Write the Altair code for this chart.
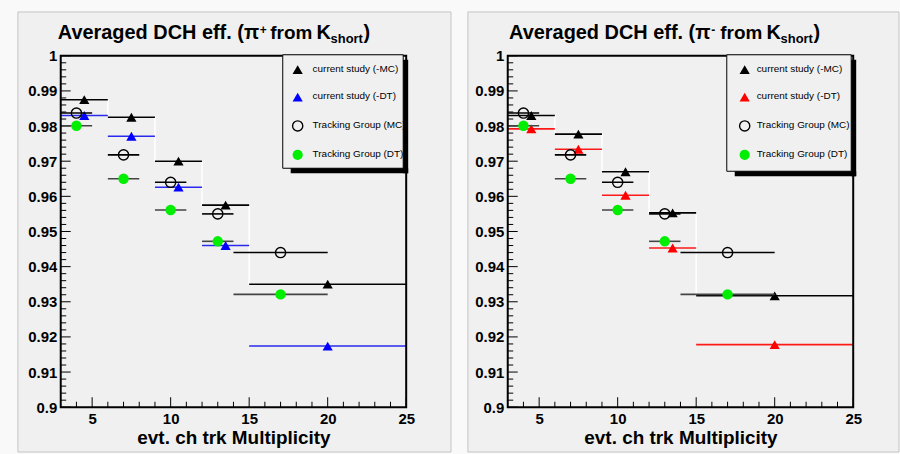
import altair as alt
import pandas as pd

# ---------------- data ----------------
cs_x = [4.5, 7.5, 10.5, 13.5, 20.0]        # current study bin centres
cs_lo = [3, 6, 9, 12, 15]
cs_hi = [6, 9, 12, 15, 25]
cs_edges = [3, 6, 9, 12, 15, 25]
tg_x = [4, 7, 10, 13, 17]                  # tracking group points
tg_lo = [3, 6, 9, 12, 14]
tg_hi = [5, 8, 11, 14, 20]

pip_mc = [0.9875, 0.9825, 0.9700, 0.9575, 0.9350]
pip_dt = [0.9830, 0.9771, 0.9626, 0.9460, 0.9174]
pim_mc = [0.9830, 0.9777, 0.9670, 0.9553, 0.9317]
pim_dt = [0.9792, 0.9734, 0.9603, 0.9453, 0.9178]
tg_mc = [0.9837, 0.9718, 0.9640, 0.9550, 0.9440]
tg_dt = [0.9801, 0.9650, 0.9561, 0.9472, 0.9321]

labels = ["current study (-MC)", "current study (-DT)",
          "Tracking Group (MC)", "Tracking Group (DT)"]

y_major = [0.90, 0.91, 0.92, 0.93, 0.94, 0.95, 0.96, 0.97, 0.98, 0.99, 1.00]
y_minor = [round(0.9 + 0.002 * i, 3) for i in range(51) if i % 5]
x_major = [5, 10, 15, 20, 25]
x_minor = [4, 6, 7, 8, 9, 11, 12, 13, 14, 16, 17, 18, 19, 21, 22, 23, 24]

FONT = "Liberation Sans"
W, H = 347, 353
PANEL = "#f0f0f0"
BORDER = "#c4c4c4"
GREEN = "#00ee00"

xs = alt.Scale(domain=[3, 25], nice=False, zero=False)
ys = alt.Scale(domain=[0.9, 1.0], nice=False, zero=False)
XAX = alt.Axis(values=x_major, title="evt. ch trk Multiplicity", ticks=False, domain=False,
               grid=False, labelFont=FONT, labelFontSize=15, labelFontWeight="bold",
               labelColor="black", labelPadding=4, labelFlush=False, labelOverlap=False,
               titleFont=FONT, titleFontSize=19, titleFontWeight="bold", titleColor="black",
               titlePadding=2, format="d", zindex=2)
YAX = alt.Axis(values=y_major, title=None, ticks=False, domain=False, grid=False,
               labelFont=FONT, labelFontSize=15, labelFontWeight="bold", labelColor="black",
               labelPadding=4, labelFlush=False, labelOverlap=False, format=".2~f", zindex=2)

one = pd.DataFrame({"a": [0]})


def X(f):
    return alt.X(f, type="quantitative", scale=xs, axis=XAX)


def Y(f):
    return alt.Y(f, type="quantitative", scale=ys, axis=YAX)


def deco():
    return alt.Chart(one)


def txt(s, x, y, size, bold=True, align="left"):
    return deco().mark_text(text=s, font=FONT, fontSize=size,
                            fontWeight="bold" if bold else "normal",
                            align=align, baseline="alphabetic", color="black").encode(
        x=alt.value(x), y=alt.value(y))


def panel(mc, dt, dt_color, dt_bar, sup, bgx, t, leg):
    layers = []
    # panel background
    layers.append(deco().mark_rect(fill=PANEL, stroke=BORDER, strokeWidth=1).encode(
        x=alt.value(bgx[0]), x2=alt.value(bgx[1]), y=alt.value(-44), y2=alt.value(398)))
    # title pieces
    layers += [
        txt("Averaged DCH eff. (\u03c0", t[0], -17.3, 20),
        txt(sup, t[1], -21.5, 12),
        txt("from", t[2], -17.3, 19),
        txt("K", t[3], -17.3, 20),
        txt("short", t[4], -12.5, 13),
        txt(")", t[5], -17.3, 20),
    ]
    # ticks (inside frame)
    ymaj = pd.DataFrame({"v": y_major})
    ymin = pd.DataFrame({"v": y_minor})
    xmaj = pd.DataFrame({"v": x_major})
    xmin = pd.DataFrame({"v": x_minor})
    layers.append(alt.Chart(ymaj).mark_rule(color="black", strokeWidth=1).encode(
        y=Y("v"), x=alt.value(0), x2=alt.value(10)))
    layers.append(alt.Chart(ymin).mark_rule(color="black", strokeWidth=1).encode(
        y=Y("v"), x=alt.value(0), x2=alt.value(5.5)))
    layers.append(alt.Chart(xmaj).mark_rule(color="black", strokeWidth=1).encode(
        x=X("v"), y=alt.value(H - 10), y2=alt.value(H)))
    layers.append(alt.Chart(xmin).mark_rule(color="black", strokeWidth=1).encode(
        x=X("v"), y=alt.value(H - 5.5), y2=alt.value(H)))

    # MC histogram outline (white steps)
    hist = pd.DataFrame({"x": cs_edges, "y": mc + [mc[-1]]})
    layers.append(alt.Chart(hist).mark_line(interpolate="step-after", color="white",
                                            strokeWidth=1.5).encode(x=X("x"), y=Y("y")))
    cur_mc = pd.DataFrame({"x": cs_x, "lo": cs_lo, "hi": cs_hi, "y": mc})
    cur_dt = pd.DataFrame({"x": cs_x, "lo": cs_lo, "hi": cs_hi, "y": dt})
    tgm = pd.DataFrame({"x": tg_x, "lo": tg_lo, "hi": tg_hi, "y": tg_mc})
    tgd = pd.DataFrame({"x": tg_x, "lo": tg_lo, "hi": tg_hi, "y": tg_dt})

    layers.append(alt.Chart(cur_mc).mark_rule(color="black", strokeWidth=1.6).encode(
        x=X("lo"), x2="hi:Q", y=Y("y")))
    layers.append(alt.Chart(cur_mc).mark_point(shape="triangle-up", filled=True, size=105,
                                               color="black", opacity=1).encode(x=X("x"), y=Y("y")))
    layers.append(alt.Chart(cur_dt).mark_rule(color=dt_bar, strokeWidth=1.6).encode(
        x=X("lo"), x2="hi:Q", y=Y("y")))
    layers.append(alt.Chart(cur_dt).mark_point(shape="triangle-up", filled=True, size=105,
                                               color=dt_color, opacity=1).encode(x=X("x"), y=Y("y")))
    layers.append(alt.Chart(tgm).mark_rule(color="black", strokeWidth=1.6).encode(
        x=X("lo"), x2="hi:Q", y=Y("y")))
    layers.append(alt.Chart(tgm).mark_point(shape="circle", filled=False, size=105,
                                            color="black", strokeWidth=1.4, opacity=1).encode(
        x=X("x"), y=Y("y")))
    layers.append(alt.Chart(tgd).mark_rule(color="#444444", strokeWidth=1.6).encode(
        x=X("lo"), x2="hi:Q", y=Y("y")))
    layers.append(alt.Chart(tgd).mark_point(shape="circle", filled=True, size=110,
                                            color=GREEN, opacity=1).encode(x=X("x"), y=Y("y")))

    # frame
    layers.append(deco().mark_rect(fillOpacity=0, stroke="black", strokeWidth=2).encode(
        x=alt.value(0), x2=alt.value(W), y=alt.value(0), y2=alt.value(H)))

    # legend
    bx0, bx1, by0, by1, mx, tx = leg
    layers.append(deco().mark_rect(fill=PANEL, stroke="black", strokeWidth=1).encode(
        x=alt.value(bx0), x2=alt.value(bx1), y=alt.value(by0), y2=alt.value(by1)))
    rows = [13, 40.5, 69.5, 98.5]
    styles = [("triangle-up", True, "black"), ("triangle-up", True, dt_color),
              ("circle", False, "black"), ("circle", True, GREEN)]
    for lab, ry, (shp, fil, col) in zip(labels, rows, styles):
        layers.append(deco().mark_point(shape=shp, filled=fil, color=col, opacity=1,
                                        size=105,
                                        strokeWidth=1.4).encode(
            x=alt.value(mx), y=alt.value(ry + 1)))
        layers.append(deco().mark_text(text=lab, font=FONT, fontSize=10, align="left",
                                       baseline="middle", color="black").encode(
            x=alt.value(tx), y=alt.value(ry)))
    # shadow strips
    layers.append(deco().mark_rect(fill="black").encode(
        x=alt.value(bx1), x2=alt.value(bx1 + 5), y=alt.value(by0 + 5), y2=alt.value(by1 + 5)))
    layers.append(deco().mark_rect(fill="black").encode(
        x=alt.value(bx0 + 8), x2=alt.value(bx1 + 5), y=alt.value(by1), y2=alt.value(by1 + 5)))

    return alt.layer(*layers).properties(width=W, height=H)


left = panel(pip_mc, pip_dt, "#0000ff", "#2a2aee", "+", (-43, 392),
             (-3, 200, 210.5, 257, 271, 304), (223, 344, -1, 113, 238, 253))
right = panel(pim_mc, pim_dt, "#ff0000", "#ff1a1a", "-", (-40, 393),
              (1.3, 204.5, 213.5, 260, 274, 307), (220, 345, -1, 116, 238, 250))

chart = alt.hconcat(left, right, spacing=15).properties(
    padding={"left": 17, "top": 10, "right": 0, "bottom": 2},
    background="#f9f9f9",
).configure_view(stroke=None, fill=None)

chart.save("out.html", embed_options={"renderer": "svg", "actions": False})
